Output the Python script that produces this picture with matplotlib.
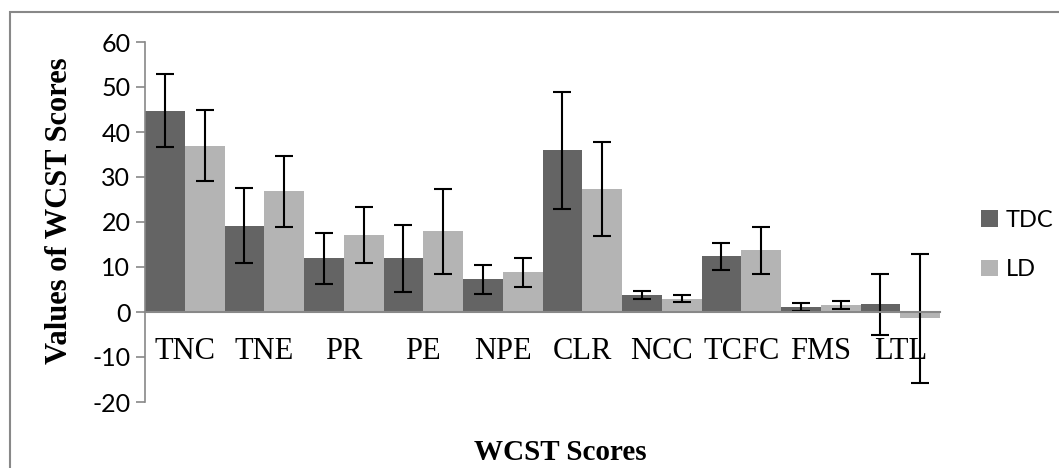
import numpy as np
import matplotlib.pyplot as plt
from matplotlib.patches import Rectangle

# data
categories = ['TNC', 'TNE', 'PR', 'PE', 'NPE', 'CLR', 'NCC', 'TCFC', 'FMS', 'LTL']
tdc_mean = [44.7, 19.2, 11.9, 11.9, 7.3, 35.9, 3.8, 12.4, 1.2, 1.7]
tdc_err = [8.1, 8.3, 5.7, 7.4, 3.2, 13.1, 0.9, 3.0, 0.9, 6.8]
ld_mean = [37.0, 26.8, 17.2, 17.9, 8.8, 27.3, 3.0, 13.7, 1.5, -1.4]
ld_err = [7.9, 7.9, 6.2, 9.4, 3.3, 10.5, 0.85, 5.2, 0.85, 14.4]
yticks = [-20, -10, 0, 10, 20, 30, 40, 50, 60]

W, H = 1059, 468
fig = plt.figure(figsize=(W/100, H/100), dpi=100)
ax = fig.add_axes([145/W, 1-402/H, 795/W, 360/H])

x = np.arange(len(categories))
w = 0.5
axis_gray = '#888888'
ekw = dict(ecolor='black', elinewidth=1.5, capsize=6.5, capthick=1.5)

ax.bar(x - w/2, tdc_mean, w, yerr=tdc_err, color='#646464', label='TDC',
       error_kw=ekw, zorder=2)
ax.bar(x + w/2, ld_mean, w, yerr=ld_err, color='#b4b4b4', label='LD',
       error_kw=ekw, zorder=2)

ax.set_xlim(-0.5, len(categories) - 0.5)
ax.set_ylim(-20, 60)
ax.set_yticks(yticks)
ax.set_yticklabels([str(t) for t in yticks], fontfamily='Lato', fontsize=18)

# x axis sits on the zero line
ax.spines['bottom'].set_position(('data', 0))
ax.spines['bottom'].set_color(axis_gray)
ax.spines['bottom'].set_linewidth(1.5)
ax.spines['left'].set_color(axis_gray)
ax.spines['left'].set_linewidth(1.2)
ax.spines['top'].set_visible(False)
ax.spines['right'].set_visible(False)
ax.set_xticks(x)
ax.set_xticklabels(categories, fontfamily='Liberation Serif', fontsize=22)
ax.tick_params(axis='x', length=0, pad=18)
ax.tick_params(axis='y', length=6.5, width=1.2, color=axis_gray, pad=4)

fig.text(60/W, 1-211/H, 'Values of WCST Scores', fontfamily='Liberation Serif',
         fontweight='bold', fontsize=22, rotation=90, ha='center', va='center')
fig.text(560/W, 1-452/H, 'WCST Scores', fontfamily='Liberation Serif',
         fontweight='bold', fontsize=21, ha='center', va='center')

leg = ax.legend(loc='center left', bbox_to_anchor=(1.043, 0.436), frameon=False,
                prop={'family': 'Lato', 'size': 17}, handlelength=0.7,
                handleheight=0.7, handletextpad=0.35, labelspacing=1.2,
                borderaxespad=0.0, borderpad=0.3)

# outer chart border
fig.patches.append(Rectangle((10/W, -0.05), 1.2, 1 - 12/H + 0.05,
                             transform=fig.transFigure, fill=False,
                             edgecolor=axis_gray, linewidth=1.5))

fig.savefig('out.png', dpi=100)
